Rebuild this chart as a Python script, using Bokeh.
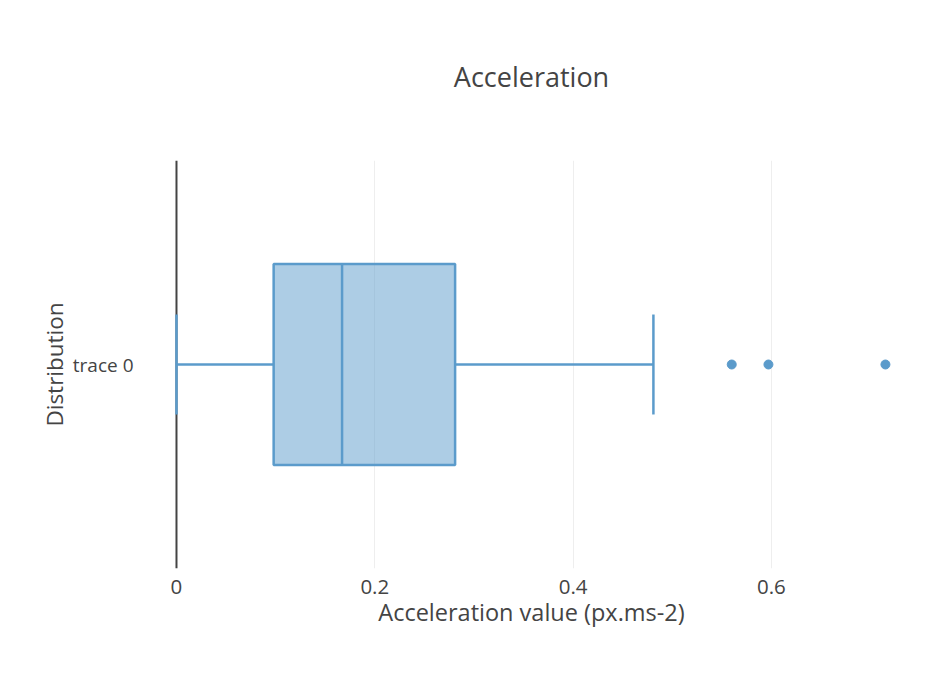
from bokeh.plotting import figure
from bokeh.models import (Span, FactorRange, Range1d, ColumnDataSource, Title,
                          LinearAxis, FixedTicker)
from bokeh.transform import dodge
from bokeh.embed import file_html
from bokeh.resources import INLINE

# ---- data ----
categories = ["trace 0"]
lower_fence = [0.0]
q1 = [0.098]
median = [0.167]
q3 = [0.281]
upper_fence = [0.481]
outliers = [0.560, 0.597, 0.715]
x_ticks = [0, 0.2, 0.4, 0.6]
x_tick_labels = ["0", "0.2", "0.4", "0.6"]
title_text = "Acceleration"

BLUE = "#5b9bcb"
TEXT = "#444444"
FONT = "Open Sans"

src = ColumnDataSource(dict(cat=categories, lo=lower_fence, q1=q1, med=median,
                            q3=q3, hi=upper_fence))
out_src = ColumnDataSource(dict(x=outliers, cat=[categories[0]] * len(outliers)))

p = figure(width=926, height=690,
           y_range=FactorRange(factors=categories),
           x_range=Range1d(-0.0373, 0.7534),
           output_backend="svg", toolbar_location=None,
           min_border_left=139, min_border_right=3,
           min_border_top=160, min_border_bottom=122)
p.outline_line_color = None
p.background_fill_color = "white"
p.border_fill_color = "white"

# invisible spacer axis above the frame (one hidden tick, blank label)
spacer = LinearAxis(ticker=FixedTicker(ticks=[0.3]), axis_line_color=None,
                    major_tick_line_color=None, minor_tick_line_color=None,
                    major_tick_out=20, major_tick_in=0, minor_tick_out=0,
                    minor_tick_in=0, major_label_standoff=0,
                    major_label_text_font_size="1px",
                    major_label_text_color=None,
                    major_label_overrides={0.3: ""})
p.add_layout(spacer, "above")

p.title = Title(text=title_text, align="center", text_font=FONT,
                text_font_size="27px", text_font_style="normal",
                text_color=TEXT, standoff=91)

# zero line
p.add_layout(Span(location=0, dimension="height", line_color=TEXT,
                  line_width=2, level="underlay"))

# whiskers
p.segment(x0="lo", x1="q1", y0="cat", y1="cat", line_color=BLUE,
          line_width=2.5, source=src)
p.segment(x0="q3", x1="hi", y0="cat", y1="cat", line_color=BLUE,
          line_width=2.5, source=src)
for col in ("lo", "hi"):
    p.segment(x0=col, x1=col,
              y0=dodge("cat", -0.1225, range=p.y_range),
              y1=dodge("cat", 0.1225, range=p.y_range),
              line_color=BLUE, line_width=2.5, source=src)

# box
p.hbar(y="cat", left="q1", right="q3", height=0.493, fill_color=BLUE,
       fill_alpha=0.5, line_color=BLUE, line_width=2.5, source=src)
p.segment(x0="med", x1="med",
          y0=dodge("cat", -0.2465, range=p.y_range),
          y1=dodge("cat", 0.2465, range=p.y_range),
          line_color=BLUE, line_width=2.5, source=src)

# outliers
p.scatter(x="x", y="cat", size=9, fill_color=BLUE, line_color=BLUE,
          source=out_src)

# axes
p.below[0].ticker = x_ticks
p.below[0].major_label_overrides = {t: l for t, l in zip(x_ticks, x_tick_labels)}
for ax in (p.below[0], p.left[0]):
    ax.axis_line_color = None
    ax.major_tick_line_color = None
    ax.minor_tick_line_color = None
    ax.major_label_text_font = FONT
    ax.major_label_text_color = TEXT
    ax.axis_label_text_font = FONT
    ax.axis_label_text_font_style = "normal"
    ax.axis_label_text_color = TEXT

xa = p.below[0]
xa.major_label_text_font_size = "20.5px"
xa.axis_label_text_font_size = "23.5px"
xa.axis_label = "Acceleration value (px.ms-2)"
xa.major_label_standoff = 5
xa.axis_label_standoff = -1

ya = p.left[0]
ya.major_label_text_font_size = "19px"
ya.axis_label_text_font_size = "22.5px"
ya.axis_label = "Distribution"
ya.major_label_standoff = 0
ya.axis_label_standoff = 0

p.xgrid.grid_line_color = "#eeeeee"
p.xgrid.grid_line_width = 1
p.ygrid.grid_line_color = None

open("out.html", "w").write(file_html(p, INLINE))
